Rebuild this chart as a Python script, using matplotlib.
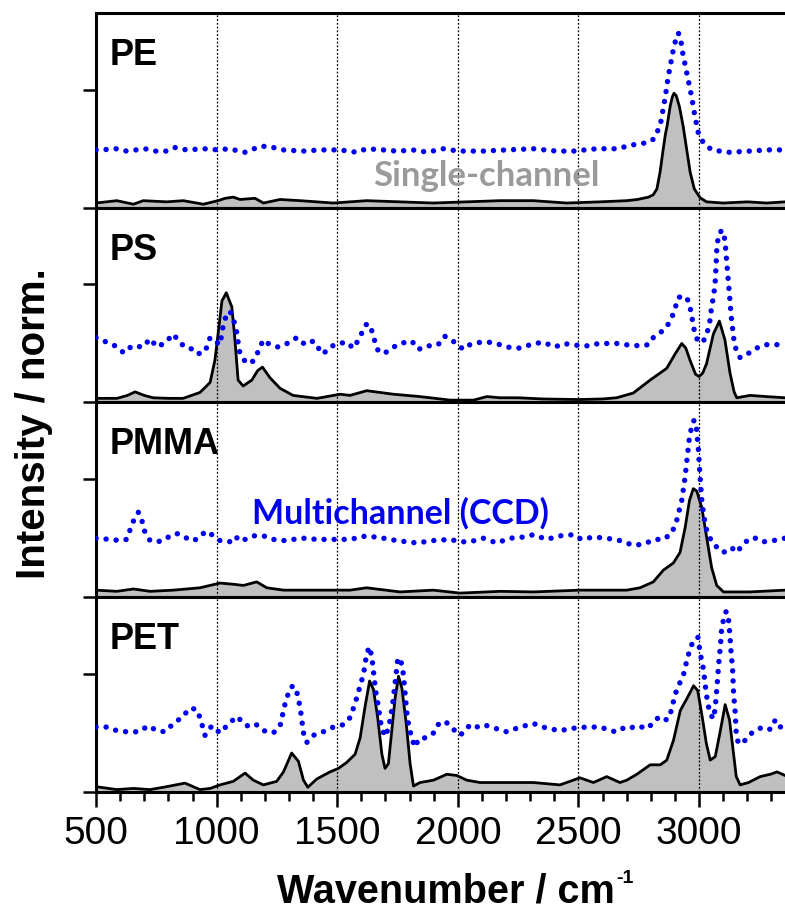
import matplotlib
matplotlib.use('Agg')
import matplotlib.pyplot as plt
from matplotlib.ticker import MultipleLocator

plt.rcParams['font.family'] = ['Liberation Sans', 'DejaVu Sans']

# Data (wavenumber in cm-1, normalised intensity)
pe_sc_w = [500, 586, 655, 696, 793, 862, 945, 1006, 1035, 1069, 1097, 1159, 1194, 1263, 1346, 1484,
           1622, 1760, 1898, 2036, 2175, 2313, 2451, 2589, 2700, 2744, 2790, 2810, 2825, 2838, 2850,
           2860, 2867, 2880, 2889, 2896, 2905, 2918, 2934, 2948, 2963, 2980, 3004, 3031, 3100, 3200,
           3280, 3356]
pe_sc_v = [0.04, 0.06, 0.03, 0.06, 0.05, 0.06, 0.03, 0.06, 0.08, 0.09, 0.07, 0.08, 0.04, 0.07, 0.06, 0.04,
           0.06, 0.05, 0.04, 0.05, 0.06, 0.06, 0.04, 0.05, 0.06, 0.07, 0.09, 0.11, 0.16, 0.30, 0.48,
           0.62, 0.69, 0.86, 0.94, 0.97, 0.95, 0.86, 0.69, 0.50, 0.30, 0.16, 0.085, 0.05, 0.04, 0.05,
           0.04, 0.05]
pe_ccd_w = [500, 517, 586, 627, 703, 745, 793, 828, 876, 948, 1007, 1049, 1118, 1180, 1215, 1277, 1360,
            1429, 1512, 1581, 1622, 1691, 1747, 1829, 1871, 1940, 2002, 2106, 2202, 2313, 2410, 2479,
            2575, 2658, 2700, 2741, 2783, 2810, 2838, 2859, 2872, 2893, 2905, 2914, 2924, 2932, 2949,
            2969, 2983, 2997, 3018, 3052, 3121, 3211, 3280, 3356]
pe_ccd_v = [0.49, 0.49, 0.50, 0.48, 0.50, 0.48, 0.48, 0.51, 0.49, 0.50, 0.49, 0.50, 0.47, 0.52, 0.52, 0.49, 0.48,
            0.49, 0.49, 0.47, 0.50, 0.49, 0.48, 0.49, 0.47, 0.50, 0.48, 0.48, 0.49, 0.50, 0.48, 0.48,
            0.50, 0.50, 0.52, 0.54, 0.55, 0.58, 0.69, 0.93, 1.11, 1.34, 1.44, 1.48, 1.42, 1.31, 1.14,
            0.94, 0.77, 0.63, 0.55, 0.49, 0.47, 0.48, 0.49, 0.49]

ps_sc_w = [500, 587, 630, 662, 700, 737, 800, 861, 931, 973, 993, 1006, 1022, 1040, 1063, 1076, 1089, 1110,
           1146, 1170, 1190, 1221, 1263, 1317, 1416, 1512, 1553, 1622, 1733, 1843, 1968, 2065, 2120, 2175,
           2250, 2350, 2502, 2600, 2658, 2727, 2797, 2866, 2900, 2928, 2945, 2962, 2985, 3000, 3015, 3031,
           3059, 3084, 3107, 3128, 3145, 3156, 3211, 3280, 3356]
ps_sc_v = [0.035, 0.035, 0.06, 0.09, 0.06, 0.04, 0.035, 0.035, 0.085, 0.17, 0.36, 0.58, 0.86, 0.93, 0.81, 0.53,
           0.19, 0.14, 0.19, 0.27, 0.30, 0.21, 0.12, 0.06, 0.035, 0.07, 0.06, 0.10, 0.07, 0.05, 0.02, 0.02,
           0.05, 0.04, 0.04, 0.03, 0.025, 0.03, 0.04, 0.08, 0.19, 0.29, 0.41, 0.50, 0.46, 0.36, 0.24, 0.22,
           0.25, 0.33, 0.58, 0.69, 0.53, 0.25, 0.09, 0.04, 0.06, 0.05, 0.04]
ps_ccd_w = [500, 545, 579, 616, 649, 695, 724, 753, 790, 819, 857, 881, 919, 952, 973, 1014, 1027, 1043, 1056,
            1068, 1085, 1093, 1110, 1126, 1151, 1172, 1193, 1221, 1255, 1292, 1333, 1367, 1400, 1441, 1470,
            1503, 1541, 1566, 1588, 1602, 1620, 1636, 1647, 1657, 1671, 1698, 1726, 1760, 1809, 1837, 1871,
            1905, 1933, 1947, 1974, 2023, 2050, 2092, 2133, 2175, 2202, 2251, 2285, 2320, 2354, 2403, 2437,
            2472, 2513, 2548, 2582, 2617, 2658, 2693, 2755, 2790, 2810, 2838, 2866, 2893, 2914, 2930, 2949,
            2962, 2969, 2976, 2983, 2997, 3018, 3031, 3042, 3052, 3059, 3066, 3070, 3073, 3080, 3094, 3107,
            3114, 3121, 3128, 3132, 3138, 3146, 3156, 3170, 3197, 3218, 3246, 3280, 3315, 3356]
ps_ccd_v = [0.55, 0.51, 0.48, 0.42, 0.48, 0.47, 0.54, 0.47, 0.51, 0.58, 0.49, 0.48, 0.41, 0.43, 0.55, 0.49, 0.65,
            0.76, 0.77, 0.72, 0.58, 0.44, 0.37, 0.33, 0.35, 0.43, 0.53, 0.49, 0.47, 0.50, 0.55, 0.49, 0.52,
            0.41, 0.47, 0.50, 0.51, 0.46, 0.53, 0.59, 0.66, 0.66, 0.58, 0.51, 0.43, 0.42, 0.46, 0.50, 0.52,
            0.45, 0.48, 0.48, 0.51, 0.56, 0.53, 0.45, 0.49, 0.51, 0.51, 0.49, 0.47, 0.46, 0.48, 0.50, 0.51,
            0.47, 0.50, 0.49, 0.48, 0.48, 0.50, 0.50, 0.50, 0.49, 0.48, 0.49, 0.55, 0.59, 0.64, 0.75, 0.89,
            0.90, 0.89, 0.81, 0.74, 0.65, 0.58, 0.51, 0.52, 0.58, 0.65, 0.81, 0.89, 1.00, 1.15, 1.29, 1.42,
            1.46, 1.38, 1.20, 1.03, 0.86, 0.75, 0.64, 0.50, 0.43, 0.38, 0.41, 0.43, 0.47, 0.49, 0.49, 0.49]

pmma_sc_w = [500, 586, 655, 724, 821, 931, 1014, 1069, 1111, 1166, 1208, 1277, 1415, 1553, 1622, 1760, 1898,
             2009, 2175, 2313, 2506, 2700, 2755, 2810, 2852, 2893, 2921, 2942, 2960, 2976, 2990, 3011, 3031,
             3052, 3073, 3101, 3211, 3356]
pmma_sc_v = [0.06, 0.05, 0.07, 0.05, 0.06, 0.08, 0.12, 0.11, 0.10, 0.13, 0.08, 0.06, 0.06, 0.06, 0.08, 0.045,
             0.06, 0.035, 0.05, 0.045, 0.06, 0.06, 0.08, 0.13, 0.23, 0.29, 0.38, 0.59, 0.82, 0.92, 0.90, 0.76,
             0.51, 0.25, 0.10, 0.045, 0.045, 0.06]
pmma_ccd_w = [500, 558, 600, 627, 648, 662, 676, 689, 703, 724, 752, 779, 807, 834, 862, 890, 917, 938, 959,
              987, 1014, 1042, 1069, 1090, 1118, 1152, 1194, 1235, 1277, 1318, 1360, 1415, 1484, 1553, 1622,
              1691, 1746, 1829, 1898, 1967, 2009, 2050, 2105, 2161, 2216, 2271, 2313, 2368, 2423, 2479, 2513,
              2562, 2617, 2672, 2727, 2769, 2817, 2852, 2886, 2907, 2928, 2942, 2951, 2960, 2969, 2979, 2990,
              2997, 3004, 3011, 3020, 3031, 3052, 3080, 3101, 3135, 3156, 3183, 3211, 3239, 3266, 3308, 3356]
pmma_ccd_v = [0.50, 0.49, 0.48, 0.49, 0.61, 0.68, 0.72, 0.66, 0.55, 0.48, 0.47, 0.48, 0.52, 0.54, 0.52, 0.48,
              0.49, 0.53, 0.56, 0.52, 0.48, 0.48, 0.46, 0.52, 0.49, 0.52, 0.52, 0.49, 0.48, 0.49, 0.50, 0.49,
              0.49, 0.49, 0.52, 0.50, 0.48, 0.46, 0.48, 0.49, 0.47, 0.47, 0.50, 0.46, 0.50, 0.51, 0.53, 0.49,
              0.52, 0.53, 0.49, 0.51, 0.50, 0.48, 0.44, 0.45, 0.49, 0.49, 0.54, 0.65, 0.82, 1.02, 1.19, 1.36,
              1.44, 1.50, 1.42, 1.25, 1.02, 0.82, 0.68, 0.57, 0.47, 0.41, 0.38, 0.42, 0.38, 0.45, 0.50, 0.50,
              0.47, 0.48, 0.50]

pet_sc_w = [500, 586, 655, 724, 793, 869, 931, 973, 1014, 1069, 1118, 1152, 1194, 1249, 1277, 1311, 1339,
            1360, 1378, 1415, 1470, 1505, 1539, 1574, 1595, 1615, 1634, 1650, 1667, 1685, 1698, 1712, 1726,
            1740, 1754, 1768, 1786, 1802, 1816, 1843, 1899, 1954, 1995, 2037, 2092, 2175, 2313, 2423, 2506,
            2562, 2617, 2672, 2700, 2742, 2797, 2839, 2866, 2894, 2922, 2949, 2977, 2994, 3011, 3030, 3046,
            3067, 3088, 3108, 3126, 3140, 3154, 3170, 3205, 3253, 3295, 3323, 3356]
pet_sc_v = [0.045, 0.02, 0.03, 0.02, 0.045, 0.075, 0.02, 0.03, 0.06, 0.09, 0.16, 0.10, 0.06, 0.09, 0.17, 0.33,
            0.26, 0.10, 0.04, 0.11, 0.17, 0.20, 0.25, 0.32, 0.46, 0.72, 0.94, 0.87, 0.64, 0.32, 0.20, 0.24,
            0.52, 0.80, 0.98, 0.88, 0.58, 0.24, 0.05, 0.08, 0.10, 0.15, 0.14, 0.10, 0.08, 0.08, 0.08, 0.06,
            0.12, 0.08, 0.13, 0.08, 0.10, 0.15, 0.23, 0.23, 0.27, 0.44, 0.69, 0.79, 0.90, 0.86, 0.66, 0.41,
            0.27, 0.30, 0.52, 0.74, 0.61, 0.37, 0.13, 0.06, 0.08, 0.13, 0.15, 0.17, 0.14]
pet_ccd_w = [500, 544, 586, 627, 676, 717, 752, 786, 821, 855, 890, 917, 931, 952, 980, 1014, 1042, 1083,
             1125, 1159, 1194, 1235, 1263, 1284, 1304, 1318, 1332, 1346, 1360, 1374, 1401, 1442, 1484, 1525,
             1553, 1574, 1595, 1609, 1622, 1633, 1643, 1653, 1661, 1671, 1678, 1685, 1698, 1712, 1722, 1733,
             1744, 1751, 1762, 1774, 1781, 1788, 1795, 1809, 1823, 1837, 1868, 1899, 1917, 1947, 1982, 2009,
             2030, 2051, 2078, 2106, 2141, 2168, 2202, 2258, 2313, 2368, 2423, 2479, 2534, 2589, 2652, 2680,
             2707, 2735, 2790, 2811, 2839, 2866, 2883, 2901, 2919, 2936, 2952, 2966, 2977, 2995, 3005, 3016,
             3023, 3030, 3036, 3046, 3060, 3067, 3074, 3081, 3088, 3094, 3104, 3112, 3122, 3126, 3132, 3139,
             3143, 3150, 3154, 3163, 3184, 3205, 3240, 3267, 3295, 3316, 3336, 3356]
pet_ccd_v = [0.55, 0.55, 0.52, 0.51, 0.51, 0.56, 0.52, 0.51, 0.58, 0.63, 0.71, 0.70, 0.63, 0.48, 0.56, 0.50,
             0.56, 0.64, 0.56, 0.58, 0.52, 0.50, 0.56, 0.75, 0.88, 0.90, 0.85, 0.72, 0.50, 0.42, 0.48, 0.51,
             0.55, 0.57, 0.63, 0.75, 0.90, 1.00, 1.17, 1.23, 1.15, 0.97, 0.83, 0.72, 0.61, 0.54, 0.47, 0.54,
             0.64, 0.80, 1.00, 1.13, 1.13, 1.00, 0.84, 0.68, 0.58, 0.45, 0.38, 0.45, 0.46, 0.50, 0.57, 0.60,
             0.53, 0.48, 0.52, 0.57, 0.55, 0.57, 0.55, 0.53, 0.51, 0.55, 0.58, 0.54, 0.52, 0.54, 0.55, 0.55,
             0.51, 0.54, 0.53, 0.56, 0.54, 0.60, 0.64, 0.61, 0.68, 0.83, 0.92, 1.00, 1.14, 1.23, 1.29, 1.31,
             1.17, 1.06, 0.95, 0.83, 0.75, 0.66, 0.62, 0.72, 0.89, 1.08, 1.23, 1.40, 1.48, 1.53, 1.46, 1.37,
             1.20, 1.03, 0.83, 0.66, 0.49, 0.41, 0.42, 0.48, 0.53, 0.55, 0.53, 0.61, 0.55, 0.57]

names = ['PE', 'PS', 'PMMA', 'PET']
single = [(pe_sc_w, pe_sc_v), (ps_sc_w, ps_sc_v), (pmma_sc_w, pmma_sc_v), (pet_sc_w, pet_sc_v)]
ccd = [(pe_ccd_w, pe_ccd_v), (ps_ccd_w, ps_ccd_v), (pmma_ccd_w, pmma_ccd_v), (pet_ccd_w, pet_ccd_v)]

blue = '#0000ee'

fig, axes = plt.subplots(4, 1, figsize=(7.85, 9.10), dpi=100, sharex=True)
fig.subplots_adjust(left=0.1223, right=1.0, top=0.9857, bottom=0.1297, hspace=0)

for ax, name, (sw, sv), (cw, cv) in zip(axes, names, single, ccd):
    ax.fill_between(sw, 0, sv, color='#c0c0c0', lw=0, zorder=1)
    ax.plot(sw, sv, color='black', lw=2.0, zorder=3)
    ax.plot(cw, cv, color=blue, lw=3.9, linestyle=(0, (0.01, 1.85)),
            dash_capstyle='round', zorder=4)

    ax.set_xlim(500, 3356)
    ax.set_ylim(0, 1.65)
    ax.set_yticks([0, 1])
    ax.xaxis.set_major_locator(MultipleLocator(500))
    ax.xaxis.set_minor_locator(MultipleLocator(100))
    ax.grid(axis='x', which='major', linestyle=(0, (1.5, 1.5)), color='black', lw=0.9, zorder=2)
    ax.set_axisbelow(False)

    for side in ['left', 'top', 'bottom']:
        ax.spines[side].set_linewidth(2.2)
    ax.spines['right'].set_visible(False)

    ax.tick_params(axis='y', direction='out', length=9.5, width=1.8, labelleft=False)
    ax.tick_params(axis='x', which='both', length=0, labelbottom=False)

    ax.text(0.02, 0.733, name, transform=ax.transAxes, fontsize=26, fontweight='bold',
            va='baseline', ha='left')

# bottom axis ticks
axes[-1].tick_params(axis='x', which='major', direction='out', length=11, width=1.8,
                     labelbottom=True, labelsize=28, pad=6)
axes[-1].tick_params(axis='x', which='minor', direction='out', length=6.5, width=1.8)

# x label with a small "-1" superscript like the original
xl = fig.text(0.353, 0.0077, 'Wavenumber / cm', fontsize=28.5, fontweight='bold',
              va='baseline', ha='left')
fig.canvas.draw()
bb = xl.get_window_extent()
fig.text(bb.x1 / fig.bbox.width + 0.002, 0.0297, '-1', fontsize=14, fontweight='bold',
         va='baseline', ha='left')

axes[0].text(0.402, 0.113, 'Single-channel', transform=axes[0].transAxes, fontsize=25,
             fontweight='bold', color='#9a9a9a', family=['Lato', 'DejaVu Sans'],
             va='baseline', ha='left', zorder=5)
axes[2].text(0.226, 0.379, 'Multichannel (CCD)', transform=axes[2].transAxes, fontsize=24.5,
             fontweight='bold', color=blue, family=['Lato', 'DejaVu Sans'],
             va='baseline', ha='left', zorder=5)

fig.text(0.043, 0.535, 'Intensity / norm.', rotation=90, fontsize=29, fontweight='bold',
         va='center', ha='center')

plt.savefig('out.png', dpi=100)
